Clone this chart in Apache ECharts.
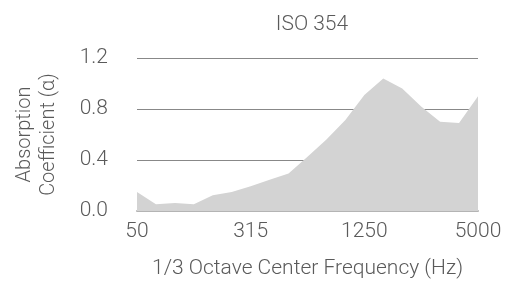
<!DOCTYPE html>
<html>
<head>
<meta charset="utf-8">
<script src="https://cdn.jsdelivr.net/npm/echarts@6/dist/echarts.min.js"></script>
<style>
  html, body { margin: 0; padding: 0; background: #fff; }
  #chart { width: 516px; height: 285px; }
</style>
</head>
<body>
<div id="chart"></div>
<script>
// 1/3 octave bands shown on the x axis
var frequencies = ['50', '63', '80', '100', '160', '200', '315', '400', '500', '630', '800', '1000',
                   '1250', '1600', '2000', '2500', '3150', '4000', '5000'];
// absorption coefficient per band
var absorption = [0.15, 0.053, 0.063, 0.053, 0.124, 0.15, 0.195, 0.245, 0.294, 0.425, 0.56, 0.714,
                  0.91, 1.04, 0.96, 0.82, 0.70, 0.69, 0.90];
var yTicks = { min: 0, max: 1.2, interval: 0.4 };

var font = 'Roboto';
var textColor = '#5a5a5a';

var chart = echarts.init(document.getElementById('chart'));
chart.setOption({
    animation: false,
    title: {
        text: 'ISO 354',
        left: 307,
        top: 9,
        textAlign: 'center',
        textStyle: { fontFamily: font, fontWeight: 300, fontSize: 21, color: textColor }
    },
    grid: { left: 137, right: 38, top: 58, bottom: 74 },
    xAxis: {
        type: 'category',
        data: frequencies,
        boundaryGap: false,
        axisLine: { lineStyle: { color: '#b4b4b4', width: 2 } },
        axisTick: { show: false },
        axisLabel: {
            interval: 5,
            margin: 10,
            fontFamily: font, fontWeight: 300, fontSize: 21, color: textColor
        },
        name: '1/3 Octave Center Frequency (Hz)',
        nameLocation: 'middle',
        nameGap: 47,
        nameTextStyle: { fontFamily: font, fontWeight: 300, fontSize: 21, color: textColor }
    },
    yAxis: {
        type: 'value',
        min: yTicks.min,
        max: yTicks.max,
        interval: yTicks.interval,
        axisLine: { show: false },
        axisTick: { show: false },
        splitLine: { lineStyle: { color: '#888', width: 1 } },
        axisLabel: {
            margin: 29,
            formatter: function (v) { return v.toFixed(1); },
            fontFamily: font, fontWeight: 300, fontSize: 21, color: textColor
        },
        name: 'Absorption\nCoefficient (α)',
        nameLocation: 'middle',
        nameGap: 76,
        nameTextStyle: { fontFamily: font, fontWeight: 300, fontSize: 20, color: textColor, lineHeight: 24 }
    },
    series: [{
        type: 'line',
        data: absorption,
        showSymbol: false,
        lineStyle: { width: 0 },
        areaStyle: { color: '#d3d3d3', opacity: 1 },
        z: 1
    }]
});
</script>
</body>
</html>
